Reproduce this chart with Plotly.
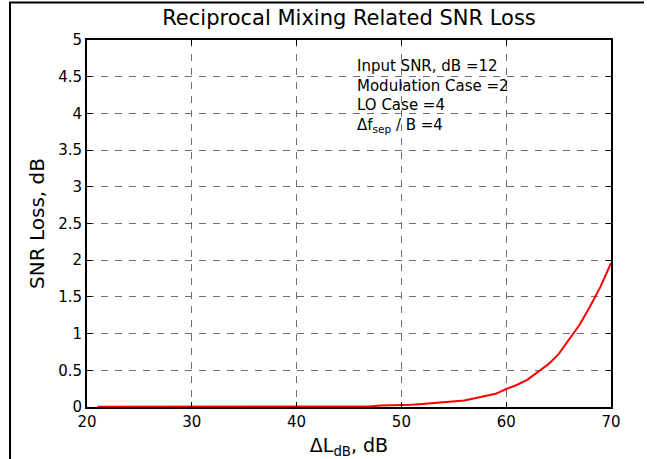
import plotly.graph_objects as go

# SNR loss caused by reciprocal mixing versus LO phase-noise level difference
delta_l_db = list(range(21, 71))
snr_loss_db = [
    0.005, 0.005, 0.005, 0.005, 0.005, 0.005, 0.005, 0.005, 0.005, 0.005,  # 21-30
    0.005, 0.005, 0.005, 0.005, 0.005, 0.005, 0.005, 0.005, 0.005, 0.005,  # 31-40
    0.005, 0.005, 0.005, 0.005, 0.005, 0.005, 0.008, 0.02, 0.022, 0.025,   # 41-50
    0.03, 0.04, 0.05, 0.06, 0.075, 0.09, 0.12, 0.15, 0.18, 0.245,          # 51-60
    0.30, 0.37, 0.47, 0.58, 0.72, 0.92, 1.12, 1.37, 1.64, 1.96,            # 61-70
]

x_ticks = [20, 30, 40, 50, 60, 70]
y_ticks = [0, 0.5, 1, 1.5, 2, 2.5, 3, 3.5, 4, 4.5, 5]
y_tick_text = ["0", "0.5", "1", "1.5", "2", "2.5", "3", "3.5", "4", "4.5", "5"]

param_lines = [
    "Input SNR, dB =12",
    "Modulation Case =2",
    "LO Case =4",
    "\u0394f<sub>sep</sub> / B =4",
]

FONT = "DejaVu Sans"
W, H = 647, 459
ML, MR, MT, MB = 87, 36, 40, 52
PW = W - ML - MR
PH = H - MT - MB

fig = go.Figure()
fig.add_trace(go.Scatter(
    x=delta_l_db, y=snr_loss_db, mode="lines",
    line=dict(color="#ff0000", width=2),
    showlegend=False,
))

axis_common = dict(
    showline=True, linecolor="black", linewidth=2, mirror="ticks",
    ticks="inside", ticklen=5, tickwidth=1, tickcolor="black",
    showgrid=True, gridcolor="#6e6e6e", gridwidth=1, griddash="7px,7px",
    zeroline=False, tickfont=dict(family=FONT, size=15, color="black"),
)

fig.update_xaxes(
    range=[20, 70], tickvals=x_ticks,
    title=dict(text="\u0394L<sub>dB</sub>, dB", font=dict(family=FONT, size=19, color="black"),
               standoff=10),
    **axis_common,
)
fig.update_yaxes(
    range=[0, 5], tickvals=y_ticks, ticktext=y_tick_text,
    title=dict(text="SNR Loss, dB", font=dict(family=FONT, size=20, color="black"),
               standoff=8),
    **axis_common,
)


def px_x(p):
    return (p - ML) / PW


def px_y(p):
    return 1 - (p - MT) / PH


fig.add_annotation(
    text="<br>".join(param_lines), xref="paper", yref="paper",
    x=px_x(355), y=px_y(55), xanchor="left", yanchor="top", align="left",
    showarrow=False, font=dict(family=FONT, size=15, color="black"),
)

# page frame: left rule and top rule
fig.add_shape(type="line", xref="paper", yref="paper",
              x0=px_x(10), x1=px_x(10), y0=px_y(2), y1=px_y(H),
              line=dict(color="black", width=2))
fig.add_shape(type="line", xref="paper", yref="paper",
              x0=px_x(9), x1=px_x(644), y0=px_y(2.5), y1=px_y(2.5),
              line=dict(color="black", width=2))

fig.update_layout(
    width=W, height=H,
    margin=dict(l=ML, r=MR, t=MT, b=MB, autoexpand=False),
    paper_bgcolor="white", plot_bgcolor="white",
    title=dict(text="Reciprocal Mixing Related SNR Loss",
               font=dict(family=FONT, size=21, color="black"),
               x=px_x(349) * PW / W + ML / W, xanchor="center",
               y=1 - 18 / H, yanchor="middle", xref="container", yref="container"),
    font=dict(family=FONT, color="black"),
)

fig.write_html("out.html")
